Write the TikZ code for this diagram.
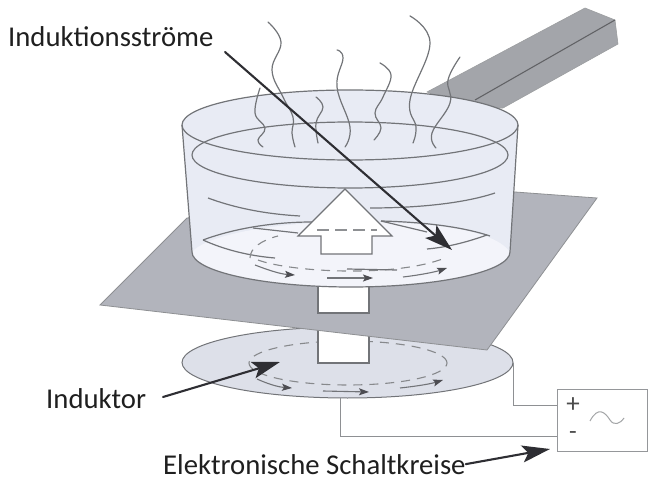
\documentclass[tikz,border=0pt]{standalone}
\usepackage{fontspec}
\setmainfont{Carlito}
\usetikzlibrary{arrows.meta,shapes.geometric}
\definecolor{edgeg}{HTML}{727478}
\definecolor{panf}{HTML}{E8EBF4}
\definecolor{floorf}{HTML}{F3F4FA}
\definecolor{platef}{HTML}{B2B4BC}
\definecolor{discf}{HTML}{DDE0E9}
\definecolor{handlef}{HTML}{A3A5AA}
\definecolor{darkar}{HTML}{2E2E33}
\tikzset{
  panline/.style={draw=edgeg,line width=1.2pt},
  steam/.style={draw=edgeg,line width=1.2pt,line cap=round,smooth,tension=0.7},
  loopdash/.style={draw=edgeg!85,line width=1.1pt,dash pattern=on 9pt off 7pt},
  smallarrow/.style={draw=edgeg,line width=1.1pt,-{Stealth[length=10pt,width=7pt,inset=2pt,color=darkar!85]}},
  callout/.style={draw=darkar,line width=2.1pt,line cap=round,-{Stealth[length=28pt,width=17pt,inset=6pt,color=darkar]}},
  labeltext/.style={inner sep=0pt,font=\fontsize{28.7}{32}\selectfont,text=black!88},
  wire/.style={draw=edgeg!80,line width=1pt},
  whitebox/.style={fill=white,draw=edgeg,line width=1.1pt}
}
\begin{document}
\begin{tikzpicture}[x=1pt,y=-1pt]
\useasboundingbox (0,0) rectangle (659,481);
% lower disc (inductor)
\node[ellipse,draw=edgeg,fill=discf,line width=1pt,minimum width=331pt,minimum height=71pt,inner sep=0pt] (disc) at (347.5,362.5) {};
\draw[loopdash] (348,363) ellipse [x radius=99pt,y radius=22pt];
\draw[whitebox] (318,320) rectangle (369,363);
\draw[smallarrow] (257,379) .. controls (268,384) and (278,387) .. (292,388);
\draw[smallarrow] (323,391) -- (369,392);
\draw[smallarrow] (400,388) .. controls (418,386) and (430,384) .. (443,380);
% plate
\fill[platef,draw=edgeg!80,line width=0.8pt] (100,305) -- (187,218) -- (515,192) -- (597,198) -- (487,350) -- cycle;
\draw[whitebox] (318,285) rectangle (369,313);
% handle
\fill[handlef,draw=edgeg!70,line width=0.6pt] (427,92) -- (585,8) -- (615,20) -- (618,44) -- (503,108) -- (470,110) -- cycle;
\draw[draw=handlef!60!black,line width=1.1pt] (475,100) -- (615,20);
% pan body
\path[fill=panf] (182,125) -- (192,252) arc [start angle=180,end angle=360,x radius=159pt,y radius=35pt] -- (518,125) arc [start angle=0,end angle=180,x radius=168pt,y radius=35pt] -- cycle;
\path[fill=floorf] (192,252) .. controls (210,232) and (290,222) .. (345,222) .. controls (410,222) and (490,225) .. (510,252) arc [start angle=0,end angle=-180,x radius=159pt,y radius=35pt] -- cycle;
\draw[panline] (182,125) -- (192,252) arc [start angle=180,end angle=360,x radius=159pt,y radius=35pt] -- (518,125);
\draw[panline] (350,125) ellipse [x radius=168pt,y radius=35pt];
\draw[panline] (350,155) ellipse [x radius=158pt,y radius=33pt];
\draw[panline] (208,198) .. controls (235,208) and (265,214) .. (300,216);
\draw[panline] (370,208) .. controls (420,208) and (465,203) .. (495,193);
% floor lines
\draw[panline] (203,240) .. controls (235,228) and (275,222) .. (312,222);
\draw[panline] (381,221) .. controls (420,222) and (460,226) .. (490,236);
\draw[panline] (203,240) .. controls (225,250) and (250,256) .. (275,258);
\draw[panline] (427,249) .. controls (450,247) and (470,241) .. (487,235);
\draw[panline] (253,228) -- (298,233);
\draw[panline] (381,221) -- (427,232);
\draw[loopdash] (250,258) .. controls (250,248) and (262,240) .. (278,236);
\draw[loopdash] (258,260) .. controls (290,272) and (395,278) .. (445,258);
\draw[panline] (347,269) -- (397,270);
\draw[smallarrow] (255,265) .. controls (268,270) and (280,274) .. (295,275);
\draw[smallarrow] (327,278) -- (373,278);
\draw[smallarrow] (403,277) .. controls (420,275) and (435,272) .. (447,268);
% big arrow
\draw[whitebox,fill=white] (345,189) -- (392,236) -- (372,236) -- (372,254) -- (321,254) -- (321,236) -- (298,236) -- cycle;
\draw[draw=edgeg!80,line width=1.1pt,dash pattern=on 12pt off 6pt] (317,230) -- (377,230);
% steam
\draw[steam] plot coordinates {(268,22) (281,42) (272,70) (283,97) (293,117) (292,133) (295,147)};
\draw[steam] plot coordinates {(260,88) (255,113) (265,128) (258,140) (263,147)};
\draw[steam] plot coordinates {(316,97) (323,107) (316,123) (318,143)};
\draw[steam] plot coordinates {(337,50) (343,58) (337,87) (350,127) (345,147)};
\draw[steam] plot coordinates {(380,63) (391,75) (383,97) (375,113) (381,128) (374,140)};
\draw[steam] plot coordinates {(410,16) (430,43) (410,100) (416,127) (413,143)};
\draw[steam] plot coordinates {(460,57) (448,80) (450,103) (432,133) (436,148)};
% circuit box
\node[draw=edgeg!75,fill=white,line width=1pt,minimum width=90pt,minimum height=62pt,inner sep=0pt] (box) at (602,420) {};
\node[inner sep=0pt,font=\fontsize{27}{30}\selectfont,text=black!70] (plus) at (573,405) {+};
\node[inner sep=0pt,font=\fontsize{25}{30}\selectfont,text=black!70] (minus) at (573,436) {-};
\draw[draw=edgeg!65,line width=1pt] (590,421) .. controls (598,406) and (605,412) .. (610,420) .. controls (614,426) and (620,424) .. (624,418);
\coordinate (wireb) at (340,398);
\draw[wire] (disc.east) |- (box.west |- plus);
\draw[wire] (wireb) |- (box.west |- minus);
% labels and callouts
\node[labeltext,anchor=base west] (lab1) at (8,47) {Induktionsströme};
\node[labeltext,anchor=base west] (lab2) at (46,408) {Induktor};
\node[labeltext,anchor=base west] (lab3) at (163,474) {Elektronische Schaltkreise};
\coordinate (tip1) at (452,250);
\coordinate (tip2) at (280,362);
\coordinate (tip3) at (550,449);
\coordinate (start1) at (225,52);
\coordinate (start2) at (163,397);
\draw[callout] (start1) -- (tip1);
\draw[callout] (start2) -- (tip2);
\draw[callout] (lab3.east) -- (tip3);
\end{tikzpicture}
\end{document}
